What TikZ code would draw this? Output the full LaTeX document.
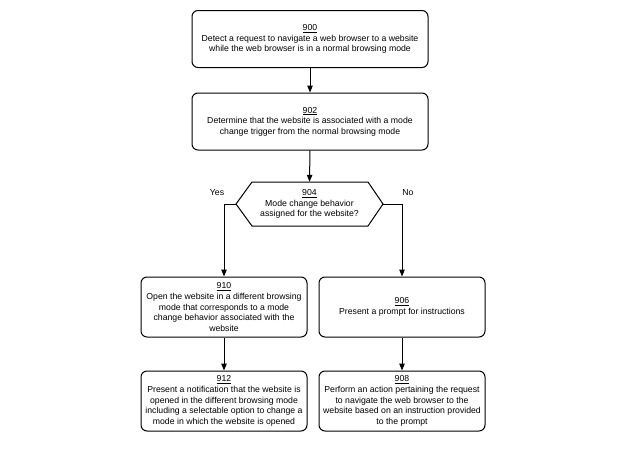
\documentclass[tikz,border=0pt]{standalone}
\usepackage{fontspec}
\setmainfont{Liberation Sans}
\usetikzlibrary{arrows.meta}
\begin{document}
\begin{tikzpicture}[x=1pt,y=-1pt,
  box/.style={draw, line width=1pt, rounded corners=6pt, align=center, font=\fontsize{8.7}{10.6}\selectfont, inner sep=0pt},
  wide/.style={box, minimum width=236pt, minimum height=57pt},
  narrow/.style={box, minimum width=166pt, minimum height=60pt},
  lbl/.style={font=\fontsize{8.7}{10.6}\selectfont, inner sep=0pt},
  arr/.style={-{Triangle[length=7pt,width=5.5pt]}, line width=1pt}]
\useasboundingbox[fill=white] (0,0) rectangle (640,453);
\node[wide] (n900) at (310,39) {\underline{900}\\Detect a request to navigate a web browser to a website\\while the web browser is in a normal browsing mode};
\node[wide] (n902) at (310,121.5) {\underline{902}\\Determine that the website is associated with a mode\\change trigger from the normal browsing mode};
\draw[line width=1pt] (236,204) -- (252,182) -- (368,182) -- (383,204) -- (368,226) -- (252,226) -- cycle;
\node[lbl, align=center, minimum width=147pt, minimum height=44pt] (n904) at (309.5,204) {\underline{904}\\Mode change behavior\\assigned for the website?};
\coordinate (tipl) at (236,204);
\coordinate (tipr) at (383,204);
\node[narrow] (n910) at (224,307) {\underline{910}\\Open the website in a different browsing\\mode that corresponds to a mode\\change behavior associated with the\\website};
\node[narrow] (n906) at (402,307) {\underline{906}\\Present a prompt for instructions};
\node[narrow] (n912) at (224,401) {\underline{912}\\Present a notification that the website is\\opened in the different browsing mode\\including a selectable option to change a\\mode in which the website is opened};
\node[narrow] (n908) at (402,401) {\underline{908}\\Perform an action pertaining the request\\to navigate the web browser to the\\website based on an instruction provided\\to the prompt};
\node[lbl] (yes) at (217,193) {Yes};
\node[lbl] (no) at (408,193) {No};
\draw[arr] (n900) -- (n902);
\draw[arr] (n902.south) -- (n904.north);
\draw[arr] (tipl) -| (n910.north);
\draw[arr] (tipr) -| (n906.north);
\draw[arr] (n910) -- (n912);
\draw[arr] (n906) -- (n908);
\end{tikzpicture}
\end{document}
